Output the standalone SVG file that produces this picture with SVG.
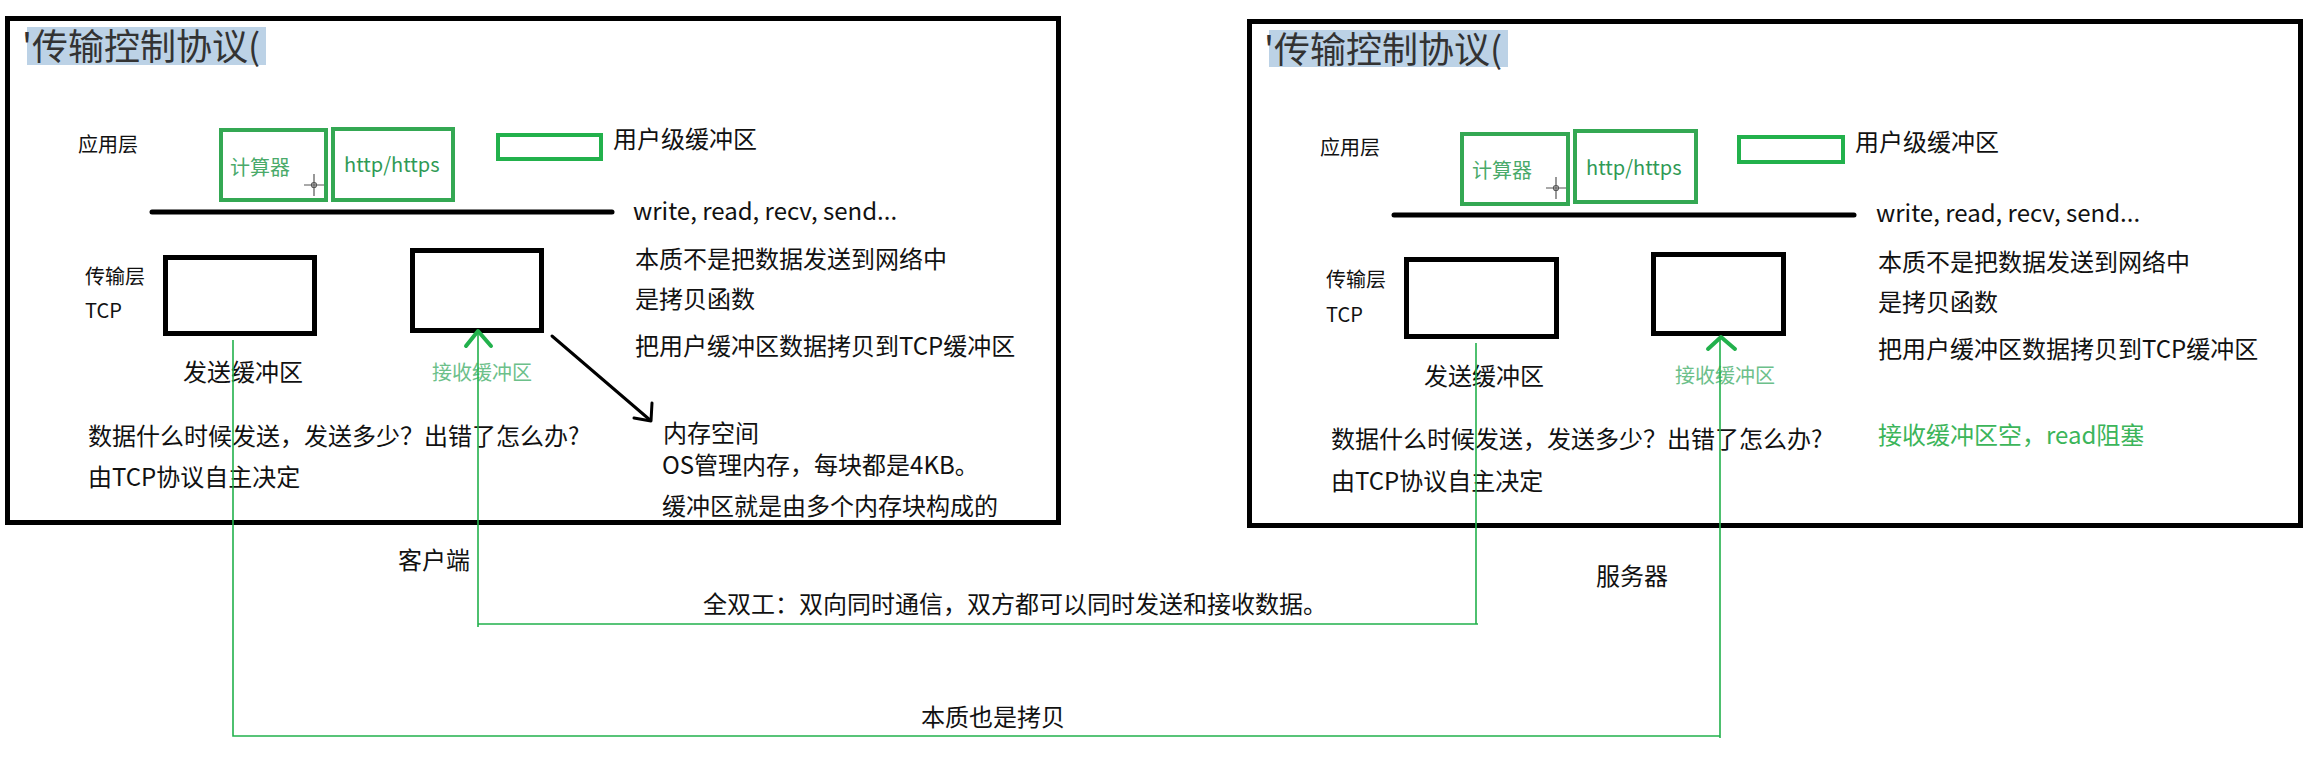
<svg xmlns="http://www.w3.org/2000/svg" width="2314" height="758" viewBox="0 0 2314 758">
<style>
  text { font-family: "Noto Sans CJK SC", "Microsoft YaHei", sans-serif; fill: #111; }
  .t24 { font-size: 24px; }
  .t20 { font-size: 20px; }
  .title { font-size: 36px; fill: #333; }
  .hl { fill: #bcd2e6; }
  .frame { fill: none; stroke: #000; stroke-width: 5; }
  .buf { fill: #fff; stroke: #000; stroke-width: 5; }
  .app { fill: #fff; stroke: #34a853; stroke-width: 4; }
  .ubuf { fill: none; stroke: #22b14c; stroke-width: 4; }
  .sep { stroke: #000; stroke-width: 5; stroke-linecap: round; }
  .g1 { fill: #4aaa6a; }
  .g2 { fill: #2f9a55; }
  .g3 { fill: #6cc08a; }
  .g4 { fill: #3cb55a; }
  .wire { fill: none; stroke: #22b14c; stroke-width: 1.6; }
  .chev { fill: none; stroke: #22b14c; stroke-width: 4; stroke-linecap: round; stroke-linejoin: round; }
  .cur { stroke: #555; stroke-width: 1.2; fill: none; }
</style>

<rect width="2314" height="758" fill="#fff"/>

<!-- Client frame -->
<g id="client">
  <rect class="frame" x="7.5" y="18.5" width="1051" height="504"/>
  <rect class="hl" x="27" y="27" width="239" height="38"/>
  <text class="title" x="22" y="60">'传输控制协议(</text>
  <text class="t20" x="78" y="152">应用层</text>
  <g id="c-calc">
    <rect class="app" x="221" y="130" width="105" height="70"/>
    <text class="t20 g1" x="230" y="175">计算器</text>
    <path class="cur" d="M314 174 V196 M304 185 H324"/><circle class="cur" cx="314" cy="185" r="2.5"/>
  </g>
  <g id="c-http">
    <rect class="app" x="333" y="129" width="120" height="71"/>
    <text class="t20 g2" x="344" y="172">http/https</text>
  </g>
  <g id="c-ubuf">
    <rect class="ubuf" x="498" y="135" width="103" height="24"/>
    <text class="t24" x="613" y="148">用户级缓冲区</text>
  </g>
  <line class="sep" x1="152" y1="212" x2="612" y2="212"/>
  <text class="t24" x="633" y="220">write, read, recv, send...</text>
  <text class="t24" x="635" y="268">本质不是把数据发送到网络中</text>
  <text class="t24" x="635" y="308">是拷贝函数</text>
  <text class="t24" x="635" y="355">把用户缓冲区数据拷贝到TCP缓冲区</text>
  <text class="t20" x="85" y="284">传输层</text>
  <text class="t20" x="85" y="318">TCP</text>
  <g id="c-send">
    <rect class="buf" x="165.5" y="257.5" width="149" height="76"/>
    <text class="t24" x="183" y="381">发送缓冲区</text>
  </g>
  <g id="c-recv">
    <rect class="buf" x="412.5" y="250.5" width="129" height="80"/>
    <text class="t20 g3" x="432" y="380">接收缓冲区</text>
  </g>
  <text class="t24" x="88" y="445">数据什么时候发送，发送多少？出错了怎么办?</text>
  <text class="t24" x="88" y="486">由TCP协议自主决定</text>
  <g id="c-mem">
    <text class="t24" x="663" y="442">内存空间</text>
    <text class="t24" x="662" y="474">OS管理内存，每块都是4KB。</text>
    <text class="t24" x="662" y="515">缓冲区就是由多个内存块构成的</text>
  </g>
</g>

<!-- Server frame -->
<g id="server">
  <rect class="frame" x="1249.5" y="21.5" width="1051" height="504"/>
  <rect class="hl" x="1269" y="30" width="239" height="37"/>
  <text class="title" x="1264" y="63">'传输控制协议(</text>
  <text class="t20" x="1320" y="155">应用层</text>
  <g id="s-calc">
    <rect class="app" x="1462" y="134" width="106" height="70"/>
    <text class="t20 g1" x="1472" y="178">计算器</text>
    <path class="cur" d="M1556 177 V199 M1546 188 H1566"/><circle class="cur" cx="1556" cy="188" r="2.5"/>
  </g>
  <g id="s-http">
    <rect class="app" x="1575" y="131" width="121" height="71"/>
    <text class="t20 g2" x="1586" y="175">http/https</text>
  </g>
  <g id="s-ubuf">
    <rect class="ubuf" x="1739" y="137" width="104" height="25"/>
    <text class="t24" x="1855" y="151">用户级缓冲区</text>
  </g>
  <line class="sep" x1="1394" y1="215" x2="1854" y2="215"/>
  <text class="t24" x="1876" y="222">write, read, recv, send...</text>
  <text class="t24" x="1878" y="271">本质不是把数据发送到网络中</text>
  <text class="t24" x="1878" y="311">是拷贝函数</text>
  <text class="t24" x="1878" y="358">把用户缓冲区数据拷贝到TCP缓冲区</text>
  <text class="t20" x="1326" y="287">传输层</text>
  <text class="t20" x="1326" y="322">TCP</text>
  <g id="s-send">
    <rect class="buf" x="1406.5" y="259.5" width="150" height="77"/>
    <text class="t24" x="1424" y="385">发送缓冲区</text>
  </g>
  <g id="s-recv">
    <rect class="buf" x="1653.5" y="254.5" width="130" height="79"/>
    <text class="t20 g3" x="1675" y="383">接收缓冲区</text>
  </g>
  <text class="t24" x="1331" y="448">数据什么时候发送，发送多少？出错了怎么办?</text>
  <text class="t24" x="1331" y="490">由TCP协议自主决定</text>
  <text class="t24 g4" x="1878" y="444">接收缓冲区空，read阻塞</text>
</g>

<!-- Labels outside -->
<g id="labels">
  <text class="t24" x="398" y="569">客户端</text>
  <text class="t24" x="1596" y="585">服务器</text>
  <text class="t24" x="703" y="613">全双工：双向同时通信，双方都可以同时发送和接收数据。</text>
  <text class="t24" x="921" y="726">本质也是拷贝</text>
</g>

<!-- Connectors -->
<g id="connectors">
  <path class="wire" d="M478 331 V627 M478 624 H1478 M1476 624 V343"/>
  <path class="wire" d="M233 340 V736 H1720 M1720 337 V738"/>
  <path class="chev" d="M466 346 L478 331 L491 346"/>
  <path class="chev" d="M1708 349 L1721 337 L1735 349"/>
  <path d="M552 336 L650 420" stroke="#000" stroke-width="3" fill="none" stroke-linecap="round"/>
  <path d="M652 403 L651 421 L634 418" stroke="#000" stroke-width="3" fill="none" stroke-linecap="round" stroke-linejoin="round"/>
</g>
</svg>
